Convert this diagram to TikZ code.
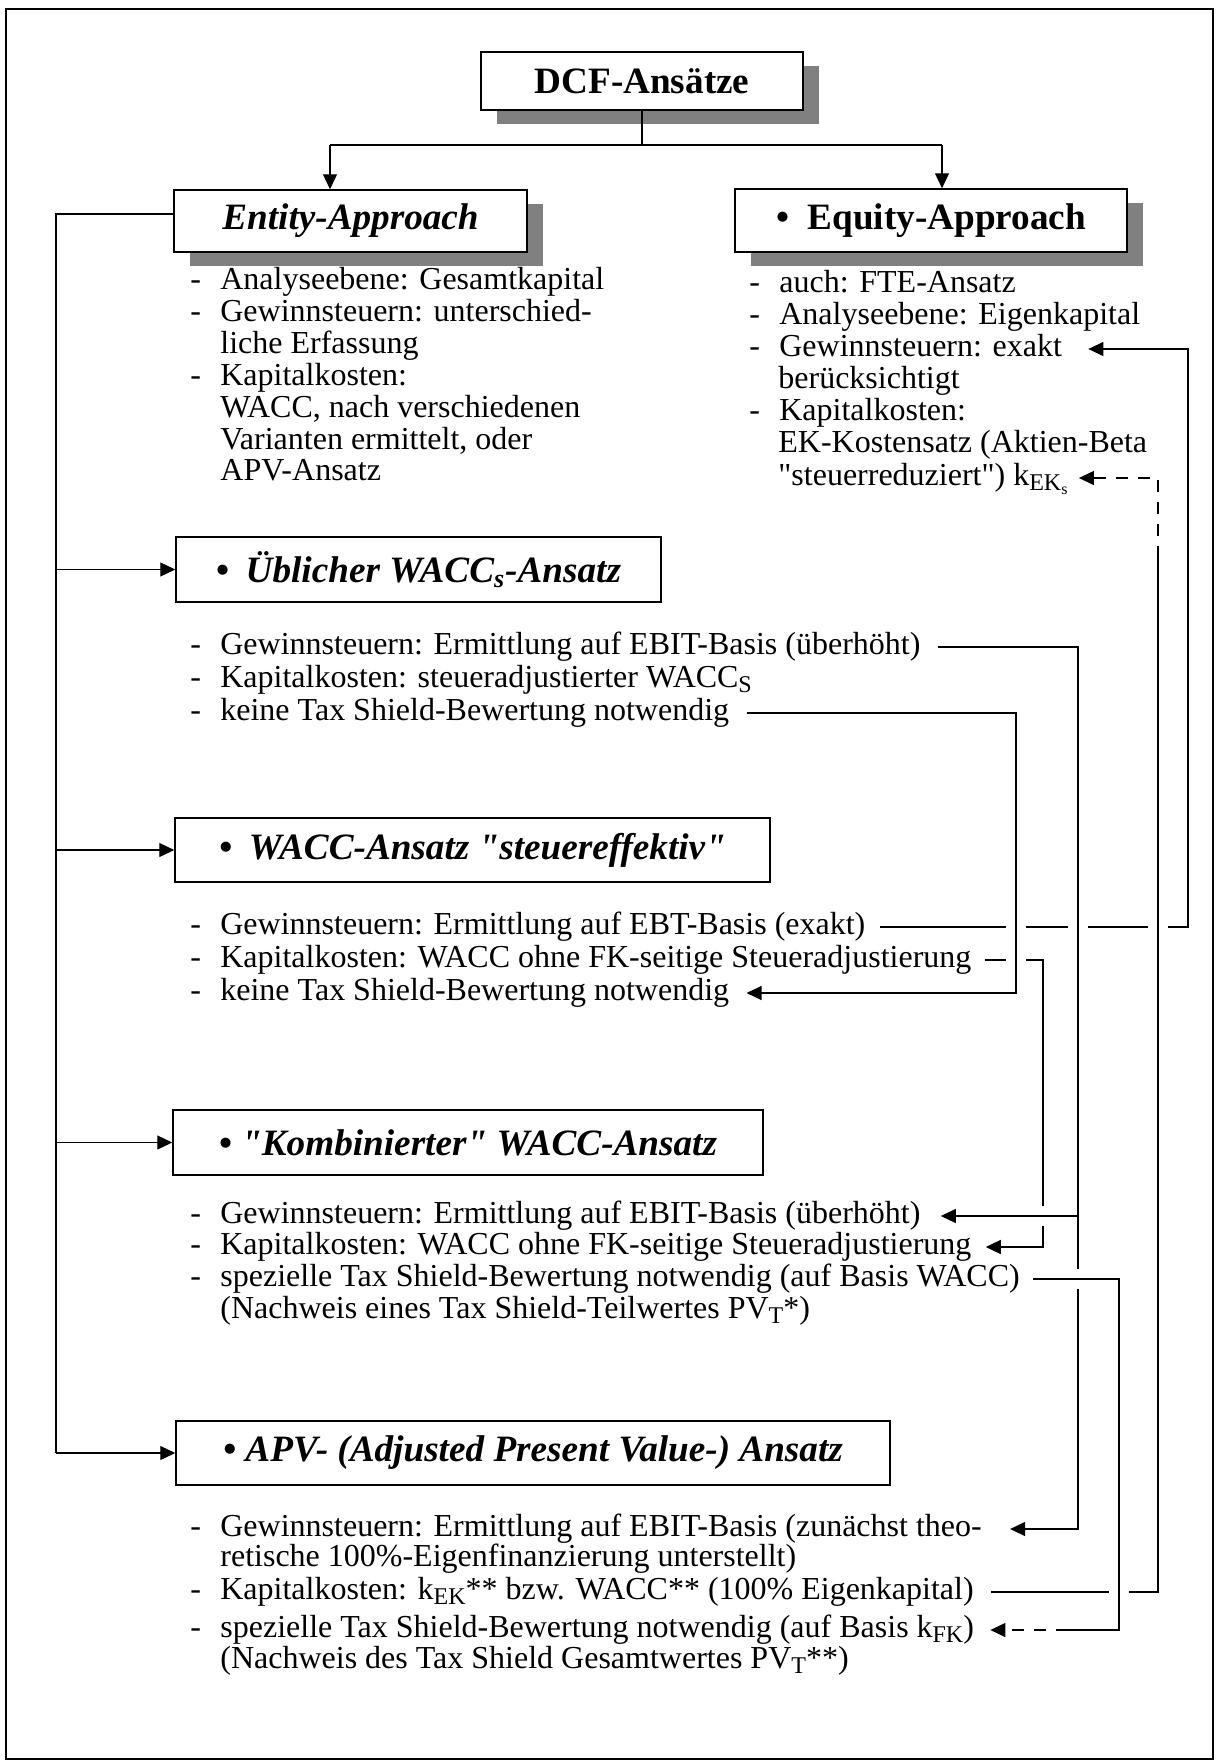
\documentclass[tikz,border=0pt]{standalone}
\usepackage{fontspec}
\setmainfont{Liberation Serif}
\usetikzlibrary{arrows.meta,shadows}

\newcommand{\itemdash}{\makebox[15pt][l]{-}}
\newcommand{\qt}{\XeTeXglyph\XeTeXcharglyph"22\relax}
\newcommand{\lowr}[1]{\raisebox{-2.5pt}{\fontsize{12}{12}\selectfont #1}}

\tikzset{
  box/.style={draw, line width=0.75pt, fill=white, inner sep=0pt,
    font=\fontsize{18.6}{20}\selectfont\bfseries\itshape},
  boxshade/.style={general shadow={fill=black!50, shadow xshift=8pt, shadow yshift=-7pt}},
  upright/.style={font=\fontsize{18.6}{20}\selectfont\bfseries},
  item/.style={anchor=west, inner sep=0pt, text height=11pt, text depth=3.5pt,
    font=\fontsize{16}{16}\selectfont},
  link/.style={line width=0.65pt},
  tip/.style={-{Triangle[length=7.5pt,width=7pt]}},
  gap/.style={preaction={draw=white, line width=10pt, arrows=-}},
  gapstart/.style={preaction={draw=white, line width=10pt, arrows=-, shorten <=2pt}},
  dashlink/.style={link, dash pattern=on 6pt off 5pt},
}

\begin{document}
\begin{tikzpicture}[x=0.5pt,y=-0.5pt]
  \useasboundingbox (0,0) rectangle (1216,1762);
  \draw[line width=1.25pt] (6,9) rectangle (1213,1759);

  % boxes
  \node[box, boxshade, upright, minimum width=161pt, minimum height=29pt] (dcf) at (642,81) {DCF-Ansätze};
  \node[box, boxshade, minimum width=176.5pt, minimum height=31pt] (entity) at (350.5,221) {Entity-Approach};
  \node[box, boxshade, upright, minimum width=196pt, minimum height=31.5pt] (equity) at (931,220.5) {•\hspace{.5em}Equity-Approach};
  \node[box, minimum width=242.5pt, minimum height=32.5pt] (ueb) at (418.5,569.5) {•\hspace{.45em}Üblicher WACC\textsubscript{s}-Ansatz};
  \node[box, minimum width=297.5pt, minimum height=32pt] (eff) at (472.5,850) {•\hspace{.45em}WACC-Ansatz \qt steuereffektiv\qt};
  \node[box, minimum width=295pt, minimum height=32.5pt] (kom) at (468,1142.5) {• \qt Kombinierter\qt{} WACC-Ansatz};
  \node[box, minimum width=357pt, minimum height=32pt] (apv) at (533,1453) {• APV- (Adjusted Present Value-) Ansatz};

  % Entity-Approach
  \node[item] (en1) at (190,282) {\itemdash Analyseebene: Gesamtkapital};
  \node[item] (en2) at (190,314) {\itemdash Gewinnsteuern: unterschied-};
  \node[item] (en3) at (220,346) {liche Erfassung};
  \node[item] (en4) at (190,378) {\itemdash Kapitalkosten:};
  \node[item] (en5) at (220,410) {WACC, nach verschiedenen};
  \node[item] (en6) at (220,442) {Varianten ermittelt, oder};
  \node[item] (en7) at (220,473) {APV-Ansatz};

  % Equity-Approach
  \node[item] (eq1) at (749,285) {\itemdash auch: FTE-Ansatz};
  \node[item] (eq2) at (749,317) {\itemdash Analyseebene: Eigenkapital};
  \node[item] (eq3) at (749,349) {\itemdash Gewinnsteuern: exakt};
  \node[item] (eq4) at (778,381) {berücksichtigt};
  \node[item] (eq5) at (749,413) {\itemdash Kapitalkosten:};
  \node[item] (eq6) at (778,445) {EK-Kostensatz (Aktien-Beta};
  \node[item] (eq7) at (778,478) {\qt steuerreduziert\qt) k\lowr{EK\textsubscript{s}}};

  % ueblicher WACC
  \node[item] (ub1) at (190,647) {\itemdash Gewinnsteuern: Ermittlung auf EBIT-Basis (überhöht)};
  \node[item] (ub2) at (190,680) {\itemdash Kapitalkosten: steueradjustierter WACC\lowr{S}};
  \node[item] (ub3) at (190,713) {\itemdash keine Tax Shield-Bewertung notwendig};

  % WACC steuereffektiv
  \node[item] (se1) at (190,927) {\itemdash Gewinnsteuern: Ermittlung auf EBT-Basis (exakt)};
  \node[item] (se2) at (190,960) {\itemdash Kapitalkosten: WACC ohne FK-seitige Steueradjustierung};
  \node[item] (se3) at (190,993) {\itemdash keine Tax Shield-Bewertung notwendig};

  % kombinierter WACC
  \node[item] (ko1) at (190,1216) {\itemdash Gewinnsteuern: Ermittlung auf EBIT-Basis (überhöht)};
  \node[item] (ko2) at (190,1247) {\itemdash Kapitalkosten: WACC ohne FK-seitige Steueradjustierung};
  \node[item] (ko3) at (190,1279) {\itemdash spezielle Tax Shield-Bewertung notwendig (auf Basis WACC)};
  \node[item] (ko4) at (220,1311) {(Nachweis eines Tax Shield-Teilwertes PV\lowr{T}*)};

  % APV
  \node[item] (ap1) at (190,1529) {\itemdash Gewinnsteuern: Ermittlung auf EBIT-Basis (zunächst theo-};
  \node[item] (ap2) at (220,1559) {retische 100\%-Eigenfinanzierung unterstellt)};
  \node[item] (ap3) at (190,1592) {\itemdash Kapitalkosten: k\lowr{EK}** bzw. WACC** (100\% Eigenkapital)};
  \node[item] (ap4) at (190,1630) {\itemdash spezielle Tax Shield-Bewertung notwendig (auf Basis k\lowr{FK})};
  \node[item] (ap5) at (220,1661) {(Nachweis des Tax Shield Gesamtwertes PV\lowr{T}**)};

  % tree
  \coordinate (forkL) at (330,145);
  \coordinate (forkR) at (942,145);
  \coordinate (spine) at (56,0);
  \draw[link] (dcf.south) -- (dcf.south |- forkL);
  \draw[link] (forkL) -- (forkR);
  \draw[link,tip] (forkL) -- (forkL |- entity.north);
  \draw[link,tip] (forkR) -- (forkR |- equity.north);
  \draw[link] ([yshift=3.5pt]entity.west) -| (spine |- apv.west);
  \foreach \n in {ueb,eff,kom,apv}
    \draw[link,tip] (spine |- \n.west) -- (\n.west);

  % cross references
  \coordinate (v1) at (1016,0);
  \coordinate (v2) at (1043,0);
  \coordinate (v3) at (1078,0);
  \coordinate (v4) at (1119,0);
  \coordinate (v6) at (1188,0);
  \coordinate (bend) at (1158,558);
  \coordinate (dashx) at (1068,0);
  \draw[link,tip] ([xshift=7pt]se1.east) -| (v6 |- eq3.east) -- ([xshift=13pt]eq3.east);
  \draw[link,gap,tip] ([xshift=6.5pt]se2.east) -| (v2 |- ko2.east) -- ([xshift=7pt]ko2.east);
  \draw[link,gap,tip] ([xshift=8.5pt]ub3.east) -| (v1 |- se3.east) -- ([xshift=8.5pt]se3.east);
  \draw[link,gap,tip] ([xshift=8.5pt]ub1.east) -| (v3 |- ap1.east) -- ([xshift=14pt]ap1.east);
  \draw[link,gapstart,tip] (v3 |- ko1.east) -- ([xshift=10pt]ko1.east);
  \draw[link,gap] ([xshift=8.5pt]ap3.east) -| (bend);
  \draw[dashlink,tip] (bend) |- ([xshift=5pt]eq7.east);
  \draw[link,gap] ([xshift=6.5pt]ko3.east) -| (v4 |- ap4.east) -- (dashx |- ap4.east);
  \draw[dashlink,tip] (dashx |- ap4.east) -- ([xshift=8pt]ap4.east);
\end{tikzpicture}
\end{document}
